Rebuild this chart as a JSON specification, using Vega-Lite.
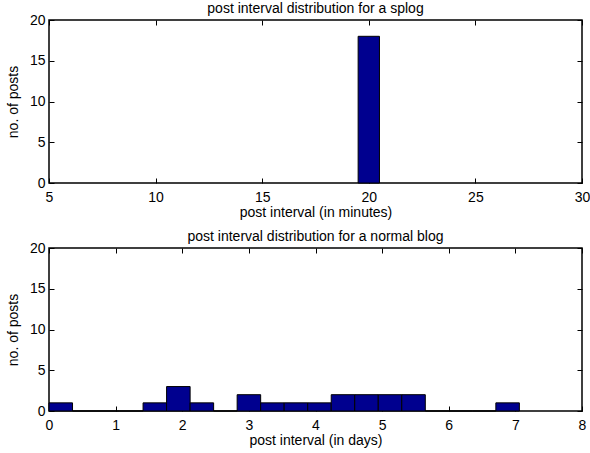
{
  "$schema": "https://vega.github.io/schema/vega-lite/v6.json",
  "background": "white",
  "padding": {"left": 5, "top": 1, "right": 0, "bottom": 0},
  "spacing": 9,
  "config": {
    "font": "Liberation Sans",
    "view": {"stroke": "#000", "strokeWidth": 1.5},
    "axis": {"domain": false, "grid": false, "tickColor": "#000", "tickSize": 5, "offset": -5, "tickWidth": 1, "labelColor": "#000", "labelFontSize": 14, "titleFontSize": 14, "titleFontWeight": "normal", "titleColor": "#000", "labelFlush": false, "labelOverlap": false},
    "axisX": {"labelPadding": 7, "titlePadding": 1},
    "axisY": {"labelPadding": 4, "titlePadding": 9},
    "title": {"fontSize": 14, "fontWeight": "normal", "color": "#000", "offset": -3}
  },
  "datasets": {
    "splog": [
      {"start": 19.5, "end": 20.5, "count": 18}
    ],
    "normal": [
      {"start": 0.0, "end": 0.353, "count": 1},
      {"start": 0.353, "end": 0.706, "count": 0},
      {"start": 0.706, "end": 1.059, "count": 0},
      {"start": 1.059, "end": 1.412, "count": 0},
      {"start": 1.412, "end": 1.765, "count": 1},
      {"start": 1.765, "end": 2.118, "count": 3},
      {"start": 2.118, "end": 2.471, "count": 1},
      {"start": 2.471, "end": 2.824, "count": 0},
      {"start": 2.824, "end": 3.177, "count": 2},
      {"start": 3.177, "end": 3.53, "count": 1},
      {"start": 3.53, "end": 3.883, "count": 1},
      {"start": 3.883, "end": 4.236, "count": 1},
      {"start": 4.236, "end": 4.589, "count": 2},
      {"start": 4.589, "end": 4.942, "count": 2},
      {"start": 4.942, "end": 5.295, "count": 2},
      {"start": 5.295, "end": 5.648, "count": 2},
      {"start": 5.648, "end": 6.001, "count": 0},
      {"start": 6.001, "end": 6.354, "count": 0},
      {"start": 6.354, "end": 6.707, "count": 0},
      {"start": 6.707, "end": 7.06, "count": 1}
    ]
  },
  "vconcat": [
    {
      "title": "post interval distribution for a splog",
      "width": 533,
      "height": 163,
      "data": {"name": "splog"},
      "layer": [
        {
          "mark": {"type": "rect", "fill": "#00008F", "stroke": "#000", "strokeWidth": 1},
          "encoding": {
            "x": {"field": "start", "type": "quantitative", "scale": {"domain": [5, 30], "nice": false, "zero": false}, "axis": {"values": [5, 10, 15, 20, 25, 30], "title": "post interval (in minutes)"}},
            "x2": {"field": "end"},
            "y": {"field": "count", "type": "quantitative", "scale": {"domain": [0, 20], "nice": false}, "axis": {"values": [0, 5, 10, 15, 20], "title": "no. of posts"}},
            "y2": {"datum": 0}
          }
        },
        {
          "mark": {"type": "rect", "opacity": 0},
          "encoding": {
            "x": {"field": "start", "type": "quantitative", "axis": {"orient": "top", "values": [5, 10, 15, 20, 25, 30], "labels": false, "labelPadding": 0, "title": null}},
            "x2": {"field": "end"},
            "y": {"field": "count", "type": "quantitative", "axis": {"orient": "right", "values": [0, 5, 10, 15, 20], "labels": false, "labelPadding": 0, "title": null}},
            "y2": {"datum": 0}
          }
        }
      ],
      "resolve": {"axis": {"x": "independent", "y": "independent"}}
    },
    {
      "title": "post interval distribution for a normal blog",
      "width": 533,
      "height": 163,
      "data": {"name": "normal"},
      "layer": [
        {
          "mark": {"type": "rect", "fill": "#00008F", "stroke": "#000", "strokeWidth": 1},
          "encoding": {
            "x": {"field": "start", "type": "quantitative", "scale": {"domain": [0, 8], "nice": false}, "axis": {"values": [0, 1, 2, 3, 4, 5, 6, 7, 8], "title": "post interval (in days)"}},
            "x2": {"field": "end"},
            "y": {"field": "count", "type": "quantitative", "scale": {"domain": [0, 20], "nice": false}, "axis": {"values": [0, 5, 10, 15, 20], "title": "no. of posts"}},
            "y2": {"datum": 0}
          }
        },
        {
          "mark": {"type": "rect", "opacity": 0},
          "encoding": {
            "x": {"field": "start", "type": "quantitative", "axis": {"orient": "top", "values": [0, 1, 2, 3, 4, 5, 6, 7, 8], "labels": false, "labelPadding": 0, "title": null}},
            "x2": {"field": "end"},
            "y": {"field": "count", "type": "quantitative", "axis": {"orient": "right", "values": [0, 5, 10, 15, 20], "labels": false, "labelPadding": 0, "title": null}},
            "y2": {"datum": 0}
          }
        }
      ],
      "resolve": {"axis": {"x": "independent", "y": "independent"}}
    }
  ]
}
